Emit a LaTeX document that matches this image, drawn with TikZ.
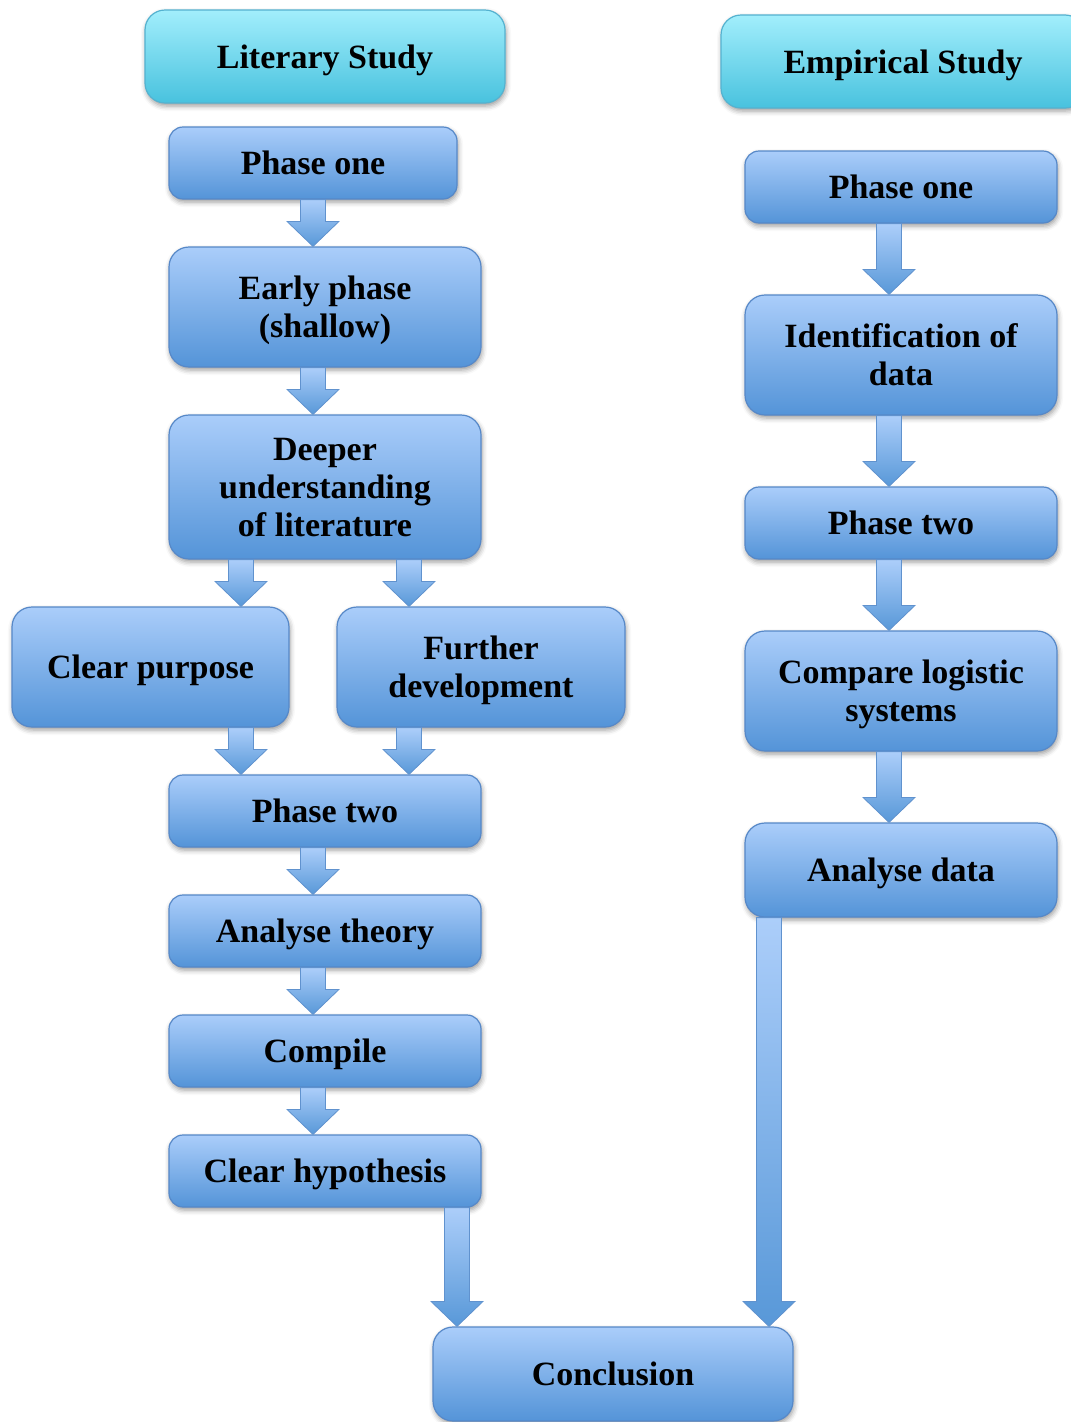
\documentclass[tikz,border=0pt]{standalone}
\usepackage{fontspec}
\setmainfont{Liberation Serif}
\usetikzlibrary{calc,shadows.blur}

\definecolor{blueTop}{RGB}{170,205,250}
\definecolor{blueBot}{RGB}{84,148,216}
\definecolor{blueLine}{RGB}{86,136,200}
\definecolor{cyanTop}{RGB}{162,238,252}
\definecolor{cyanBot}{RGB}{72,194,222}
\definecolor{cyanLine}{RGB}{84,178,208}
\definecolor{arrowTop}{RGB}{172,206,250}
\definecolor{arrowBot}{RGB}{88,152,216}
\definecolor{arrowLine}{RGB}{96,146,206}

\tikzset{
  stage/.style={rectangle, rounded corners=14pt, draw=blueLine, line width=1.2pt,
    top color=blueTop, bottom color=blueBot, inner sep=0pt, align=center,
    text depth=0pt,
    font=\fontsize{34}{38}\selectfont\bfseries,
    blur shadow={shadow xshift=1pt, shadow yshift=-3pt, shadow blur radius=5pt, shadow opacity=40}},
  tall/.style={rounded corners=20pt},
  study/.style={stage, tall, draw=cyanLine, top color=cyanTop, bottom color=cyanBot},
  sized/.style 2 args={minimum width=#1pt, minimum height=#2pt},
  arrowbody/.style={draw=arrowLine, line width=0.8pt, top color=arrowTop, bottom color=arrowBot},
}

% block arrow running down from the bottom of #2 to the top of #3 at x = #1
\newcommand\flowarrow[3]{%
  \path[arrowbody] let \p1=(#2.south), \p2=(#3.north) in
    ({(#1-12.5)*1pt},\y1) -- ({(#1+12.5)*1pt},\y1)
    -- ({(#1+12.5)*1pt},{\y2+25pt}) -- ({(#1+26)*1pt},{\y2+25pt})
    -- ({#1*1pt},\y2)
    -- ({(#1-26)*1pt},{\y2+25pt}) -- ({(#1-12.5)*1pt},{\y2+25pt}) -- cycle;}

\begin{document}
\begin{tikzpicture}[x=1pt,y=-1pt]
\useasboundingbox (0,0) rectangle (1071,1422);
\clip (0,0) rectangle (1071,1422);

% column headings
\node[study, sized={360}{93}] (lit) at (325,56.5) {Literary Study};
\node[study, sized={364}{93}] (emp) at (903,61.5) {Empirical Study};

% literary study
\node[stage, sized={288}{72}] (l1) at (313,163) {Phase one};
\node[stage, tall, sized={312}{120}] (l2) at (325,307) {Early phase\\(shallow)};
\node[stage, tall, sized={312}{144}] (l3) at (325,487) {Deeper\\understanding\\of literature};
\node[stage, tall, sized={277}{120}] (l4a) at (150.5,667) {Clear purpose};
\node[stage, tall, sized={288}{120}] (l4b) at (481,667) {Further\\development};
\node[stage, sized={312}{72}] (l5) at (325,811) {Phase two};
\node[stage, sized={312}{72}] (l6) at (325,931) {Analyse theory};
\node[stage, sized={312}{72}] (l7) at (325,1051) {Compile};
\node[stage, sized={312}{72}] (l8) at (325,1171) {Clear hypothesis};

% empirical study
\node[stage, sized={312}{72}] (r1) at (901,187) {Phase one};
\node[stage, tall, sized={312}{120}] (r2) at (901,355) {Identification of\\data};
\node[stage, sized={312}{72}] (r3) at (901,523) {Phase two};
\node[stage, tall, sized={312}{120}] (r4) at (901,691) {Compare logistic\\systems};
\node[stage, tall, sized={312}{94}] (r5) at (901,870) {Analyse data};

% joint result
\node[stage, tall, sized={360}{94}] (conc) at (613,1374) {Conclusion};

% connectors
\flowarrow{313}{l1}{l2}
\flowarrow{313}{l2}{l3}
\flowarrow{241}{l3}{l4a}
\flowarrow{409}{l3}{l4b}
\flowarrow{241}{l4a}{l5}
\flowarrow{409}{l4b}{l5}
\flowarrow{313}{l5}{l6}
\flowarrow{313}{l6}{l7}
\flowarrow{313}{l7}{l8}
\flowarrow{457}{l8}{conc}
\flowarrow{889}{r1}{r2}
\flowarrow{889}{r2}{r3}
\flowarrow{889}{r3}{r4}
\flowarrow{889}{r4}{r5}
\flowarrow{769}{r5}{conc}
\end{tikzpicture}
\end{document}
